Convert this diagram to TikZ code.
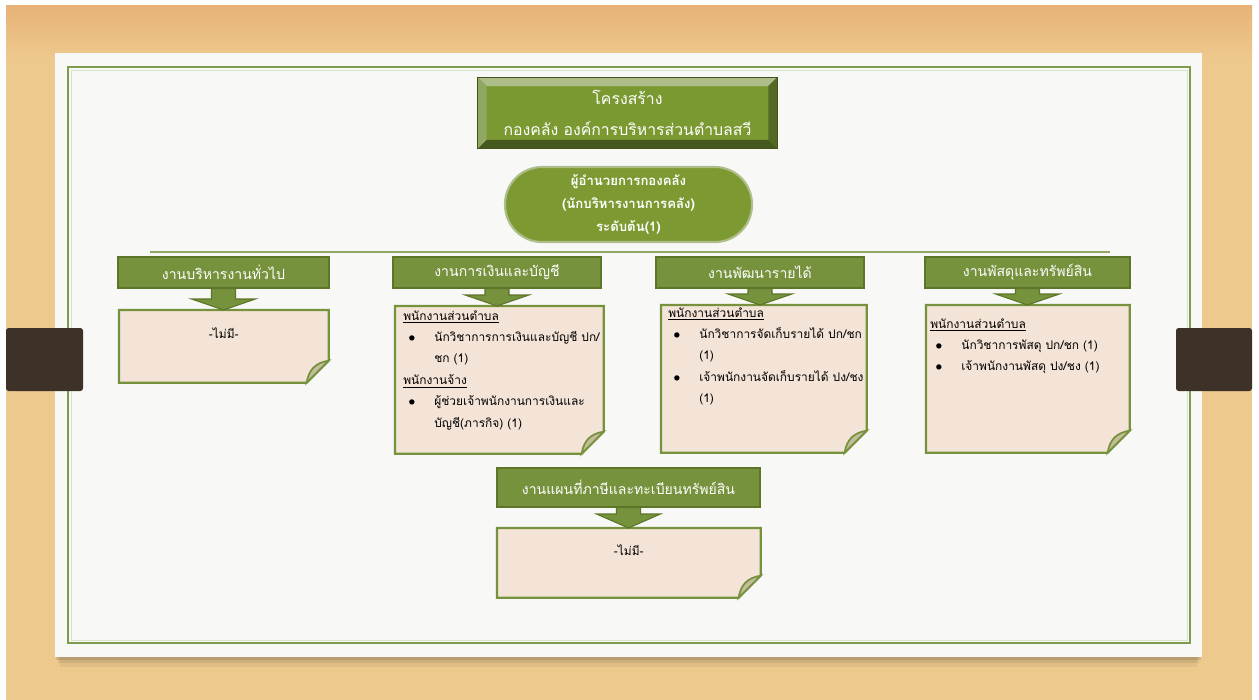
\documentclass[tikz,border=0pt]{standalone}
\usepackage{fontspec}
\setmainfont{Loma}[Script=Thai]
\usepackage{tikz}
\usetikzlibrary{calc}

\definecolor{wood}{HTML}{EDC98E}
\definecolor{woodtop}{HTML}{E8B277}
\definecolor{paper}{HTML}{F8F8F7}
\definecolor{framegreen}{HTML}{7F9C4C}
\definecolor{olive}{HTML}{76923C}
\definecolor{olivedark}{HTML}{5C7529}
\definecolor{titleface}{HTML}{7A9A31}
\definecolor{bossfill}{HTML}{7C9A31}
\definecolor{peach}{HTML}{F4E4D7}
\definecolor{flapgrey}{HTML}{C4BC9C}
\definecolor{barbrown}{HTML}{3D3128}

\tikzset{
  header/.style={fill=olive, draw=olivedark, line width=0.8pt, text=white,
    font=\fontsize{8}{10}\selectfont, inner sep=0pt, minimum height=0.62cm},
  notebox/.style={anchor=north west, inner sep=0pt},
  noteline/.style={fill=peach, draw=olive, line width=1.3pt},
  flap/.style={fill=flapgrey, draw=olive, line width=1pt},
  notetext/.style={anchor=north west, align=left, inner sep=0pt,
    font=\fontsize{6.8}{12.2}\selectfont},
  blockarrow/.style={fill=olive, draw=olivedark, line width=0.6pt}
}

\newcommand{\bitem}{\hspace*{0.1cm}\makebox[0.52cm][l]{$\bullet$}}
\newcommand{\bcont}{\hspace*{0.62cm}}
% box with folded corner
\newcommand{\foldbox}[1]{%
  \draw[noteline] (#1.north west) -- (#1.north east) -- ($(#1.south east)+(0,-22)$)
    -- ($(#1.south east)+(-22,0)$) -- (#1.south west) -- cycle;
  \filldraw[flap] ($(#1.south east)+(0,-22)$) .. controls ($(#1.south east)+(-13,-20)$)
    and ($(#1.south east)+(-20,-13)$) .. ($(#1.south east)+(-22,0)$) -- cycle;
}
% block arrow from a header down to its box
\newcommand{\headarrow}[3]{%
  \filldraw[blockarrow] ($(#1.south)+(-12,0)$) -- ($(#1.south)+(12,0)$)
    -- ($(#1.south |- #2.north)+(12,-#3)$) -- ($(#1.south |- #2.north)+(32,-#3)$)
    -- (#1.south |- #2.north) -- ($(#1.south |- #2.north)+(-32,-#3)$)
    -- ($(#1.south |- #2.north)+(-12,-#3)$) -- cycle;
}

\begin{document}
\begin{tikzpicture}[x=0.02cm, y=-0.02cm]
    \useasboundingbox (0,0) rectangle (1259,700);
    \fill[white] (0,0) rectangle (1259,700);
    % Wood
    \fill[wood] (6,5) rectangle (1252,700);
    \shade[top color=woodtop, bottom color=wood] (6,5) rectangle (1252,60);
    % Paper and shadow
    \fill[black, opacity=0.05] (60,60) rectangle (1197,667);
    \fill[black, opacity=0.08] (58,58) rectangle (1199,663);
    \fill[black, opacity=0.10] (56,56) rectangle (1201,660);
    \fill[paper] (55,53) rectangle (1202,657);
    \draw[framegreen, line width=1.2pt] (68,67) rectangle (1190,643);
    \draw[framegreen!30, line width=0.5pt] (71,70) rectangle (1187,640);
    % Bars
    \fill[barbrown, rounded corners=1.5pt] (6,328) rectangle (83,391);
    \fill[barbrown, rounded corners=1.5pt] (1176,328) rectangle (1252,391);

    % Title
    \node[fill=titleface, text=white, align=center, inner sep=0pt,
      minimum width=5.98cm, minimum height=1.42cm,
      font=\fontsize{9}{17.6}\selectfont] (title) at (627.5,113)
      {โครงสร้าง\\กองคลัง องค์การบริหารส่วนตำบลสวี};
    \fill[olive!60!white] (title.north west) -- (title.north east)
      -- ($(title.north east)+(-9,9)$) -- ($(title.north west)+(9,9)$) -- cycle;
    \fill[olive!80!white] (title.north west) -- ($(title.north west)+(9,9)$)
      -- ($(title.south west)+(9,-9)$) -- (title.south west) -- cycle;
    \fill[olivedark!90!black] (title.north east) -- (title.south east)
      -- ($(title.south east)+(-9,-9)$) -- ($(title.north east)+(-9,9)$) -- cycle;
    \fill[olivedark!75!black] (title.south west) -- (title.south east)
      -- ($(title.south east)+(-9,-9)$) -- ($(title.south west)+(9,-9)$) -- cycle;
    \draw[olivedark!70!black, line width=0.6pt] (title.north west) rectangle (title.south east);

    % Director
    \node[fill=bossfill, draw=olive!60!white, line width=1.2pt, rounded corners=0.74cm,
      minimum width=4.94cm, minimum height=1.5cm, text=white, align=center,
      font=\bfseries\fontsize{7.5}{13}\selectfont] (boss) at (628.5,204.5)
      {ผู้อำนวยการกองคลัง\\(นักบริหารงานการคลัง)\\ระดับต้น(1)};

    % Rule
    \coordinate (rulel) at (150,252);
    \coordinate (ruler) at (1110,252);
    \draw[olive!80!white, line width=0.8pt] (rulel) -- (ruler);

    % Headers
    \node[header, minimum width=4.22cm] (h1) at (223.5,272.5) {งานบริหารงานทั่วไป};
    \node[header, minimum width=4.16cm] (h2) at (497,272.5) {งานการเงินและบัญชี};
    \node[header, minimum width=4.16cm] (h3) at (760,272.5) {งานพัฒนารายได้};
    \node[header, minimum width=4.10cm] (h4) at (1027.5,272.5) {งานพัสดุและทรัพย์สิน};
    \node[header, minimum width=5.26cm, minimum height=0.78cm] (h5) at (628.5,487.5)
      {งานแผนที่ภาษีและทะเบียนทรัพย์สิน};

    % Boxes
    \node[notebox, minimum width=4.18cm, minimum height=1.44cm] (b1) at (119,310) {};
    \node[notebox, minimum width=4.16cm, minimum height=2.94cm] (b2) at (395,306) {};
    \node[notebox, minimum width=4.10cm, minimum height=2.94cm] (b3) at (661,305) {};
    \node[notebox, minimum width=4.06cm, minimum height=2.94cm] (b4) at (926,305) {};
    \node[notebox, minimum width=5.26cm, minimum height=1.38cm] (b5) at (497,528) {};
    \foldbox{b1}
    \foldbox{b2}
    \foldbox{b3}
    \foldbox{b4}
    \foldbox{b5}

    % Arrows
    \headarrow{h1}{b1}{11}
    \headarrow{h2}{b2}{11}
    \headarrow{h3}{b3}{11}
    \headarrow{h4}{b4}{11}
    \headarrow{h5}{b5}{14}

    % Box texts
    \node[font=\fontsize{6.8}{12}\selectfont] (t1) at ($(b1.north)+(0,23)$) {-ไม่มี-};
    \node[notetext] (t2) at ($(b2.north west)+(8,4)$)
      {\underline{พนักงานส่วนตำบล}\\
       \bitem นักวิชาการการเงินและบัญชี ปก/\\
       \bcont ชก (1)\\
       \underline{พนักงานจ้าง}\\
       \bitem ผู้ช่วยเจ้าพนักงานการเงินและ\\
       \bcont บัญชี(ภารกิจ) (1)};
    \node[notetext] (t3) at ($(b3.north west)+(7,2)$)
      {\underline{พนักงานส่วนตำบล}\\
       \bitem นักวิชาการจัดเก็บรายได้ ปก/ชก\\
       \bcont (1)\\
       \bitem เจ้าพนักงานจัดเก็บรายได้ ปง/ชง\\
       \bcont (1)};
    \node[notetext] (t4) at ($(b4.north west)+(4,13)$)
      {\underline{พนักงานส่วนตำบล}\\
       \bitem นักวิชาการพัสดุ ปก/ชก (1)\\
       \bitem เจ้าพนักงานพัสดุ ปง/ชง (1)};
    \node[font=\fontsize{6.8}{12}\selectfont] (t5) at ($(b5.north)+(0,22)$) {-ไม่มี-};
\end{tikzpicture}
\end{document}
